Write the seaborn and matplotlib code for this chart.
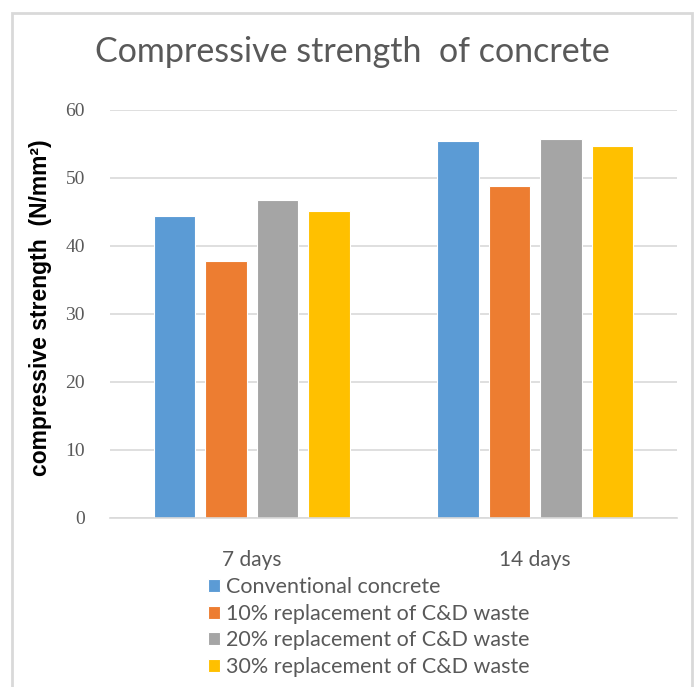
import matplotlib
matplotlib.use("Agg")
import matplotlib.pyplot as plt
import matplotlib.patches as mpatches
import pandas as pd
import seaborn as sns

# Curing ages and mix designs
ages = ["7 days", "14 days"]
mixes = [
    "Conventional concrete",
    "10% replacement of C&D waste",
    "20% replacement of C&D waste",
    "30% replacement of C&D waste",
]
# Compressive strength (N/mm²) for each mix at 7 and 14 days
conventional = [44.4, 55.4]
replace_10 = [37.8, 48.8]
replace_20 = [46.7, 55.8]
replace_30 = [45.2, 54.7]

colors = ["#5B9BD5", "#ED7D31", "#A5A5A5", "#FFC000"]

rows = []
for mix, vals in zip(mixes, [conventional, replace_10, replace_20, replace_30]):
    for age, v in zip(ages, vals):
        rows.append({"age": age, "mix": mix, "strength": v})
df = pd.DataFrame(rows)

sns.set_theme(style="white")
plt.rcParams["font.family"] = ["Lato", "DejaVu Sans"]

W, H = 697, 687
fig = plt.figure(figsize=(W / 100, H / 100), dpi=100)
ax = fig.add_axes([110 / W, 1 - 518 / H, 567 / W, 408 / H])

sns.barplot(
    data=df, x="age", y="strength", hue="mix",
    order=ages, hue_order=mixes, palette=colors, saturation=1,
    width=0.727, gap=0.2, edgecolor="white", linewidth=0.8,
    errorbar=None, ax=ax,
)

ax.set_ylim(0, 60)
ax.set_yticks(range(0, 61, 10))
ax.set_xlim(-0.5, 1.5)
ax.yaxis.grid(True, color="#d9d9d9", linewidth=1.2)
ax.set_axisbelow(True)
for side in ["left", "right", "top"]:
    ax.spines[side].set_visible(False)
ax.spines["bottom"].set_color("#d9d9d9")
ax.spines["bottom"].set_linewidth(1.2)
ax.tick_params(axis="both", length=0)
ax.tick_params(axis="y", pad=18)
ax.tick_params(axis="x", pad=23)

for lbl in ax.get_yticklabels():
    lbl.set_fontfamily("Liberation Serif")
    lbl.set_fontsize(14)
    lbl.set_color("#595959")
for lbl in ax.get_xticklabels():
    lbl.set_fontsize(15)
    lbl.set_color("#595959")

ax.set_xlabel("")
ax.set_ylabel("compressive strength  (N/mm²)", fontsize=16.5, fontweight="bold",
              color="black", family=["Liberation Sans", "DejaVu Sans"])
ax.yaxis.set_label_coords(-0.102, 0.515)

fig.suptitle("Compressive strength  of concrete", x=352 / W, y=1 - 52 / H,
             va="center", fontsize=24.5, color="#595959")

handles, labels = ax.get_legend_handles_labels()
ax.get_legend().remove()
leg = fig.legend(
    handles, labels, loc="upper left", bbox_to_anchor=(208 / W, 1 - 577 / H),
    frameon=False, fontsize=15.5, handlelength=0.56, handleheight=0.56,
    handletextpad=0.28, labelspacing=0.31, borderaxespad=0, borderpad=0,
)
for t in leg.get_texts():
    t.set_color("#595959")

# Chart area frame
fig.add_artist(mpatches.Rectangle(
    (12 / W, -0.05), 680 / W, 1.05 - 13 / H, transform=fig.transFigure,
    fill=False, edgecolor="#d9d9d9", linewidth=2, clip_on=False))

fig.savefig("out.png", dpi=100, facecolor="white")
